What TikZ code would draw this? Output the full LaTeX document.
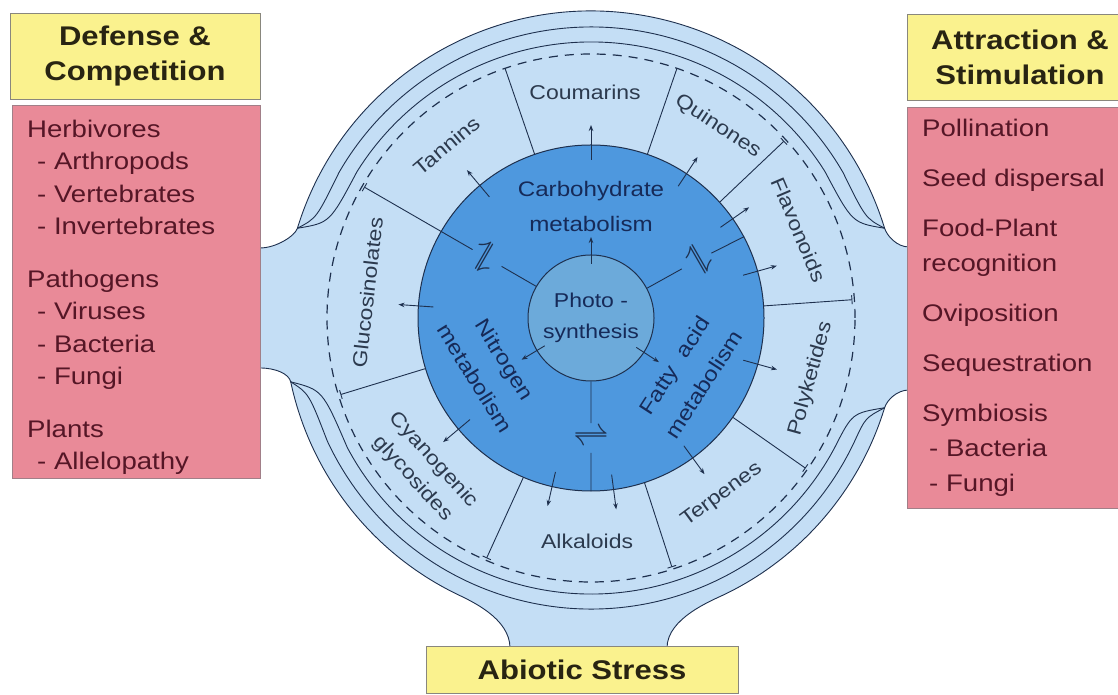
\documentclass[tikz,border=0pt]{standalone}
\usepackage{fontspec}
\setmainfont{Liberation Sans}[FakeStretch=1.15]
\usetikzlibrary{arrows.meta}
\definecolor{mynavy}{RGB}{30,48,78}
\definecolor{ringblue}{RGB}{196,222,245}
\definecolor{metblue}{RGB}{78,152,222}
\definecolor{photoblue}{RGB}{108,170,218}
\definecolor{hdryellow}{RGB}{250,242,142}
\definecolor{boxpink}{RGB}{233,138,152}
\definecolor{pinktext}{RGB}{85,22,38}
\definecolor{hdrtext}{RGB}{40,36,18}
\definecolor{ringtext}{RGB}{44,58,78}
\definecolor{mettext}{RGB}{22,42,88}
\tikzset{
  hdr/.style={rectangle, draw=hdrtext!55, fill=hdryellow, line width=0.8pt,
    align=center, font=\fontsize{27}{35}\selectfont\bfseries, text=hdrtext, inner sep=0pt},
  pinkbox/.style={rectangle, draw=pinktext!55, fill=boxpink, line width=0.8pt, inner sep=0pt},
  pinklist/.style={align=left, font=\fontsize{24}{32.5}\selectfont, text=pinktext,
    inner sep=0pt, anchor=west},
  metcirc/.style={circle, draw=mynavy, fill=metblue, line width=1pt,
    minimum size=346pt, inner sep=0pt},
  photocirc/.style={circle, draw=mynavy, fill=photoblue, line width=1pt,
    minimum size=126pt, inner sep=0pt, align=center,
    font=\fontsize{20}{31}\selectfont, text=mettext},
  ringlbl/.style={font=\fontsize{20}{28}\selectfont, text=ringtext, align=center, inner sep=0pt},
  metlbl/.style={font=\fontsize{21}{35}\selectfont, text=mettext, align=center, inner sep=0pt},
  eqsym/.style={font=\fontsize{24.88}{25}\selectfont, text=mynavy, inner sep=0pt,
    scale=1.45, transform shape},
  arrow/.style={-{Stealth[length=6pt, width=4.5pt]}, line width=0.9pt, color=mynavy},
  line/.style={line width=0.9pt, color=mynavy},
  sepline/.style={line width=0.9pt, color=mynavy, -{Bar[width=9pt]}}
}
\begin{document}
\begin{tikzpicture}[x=1pt, y=1pt]
  \useasboundingbox[fill=white] (0,0) rectangle (1118,695);
  \coordinate (ctr) at (591,377);

  \begin{scope}[shift={(ctr)}]
    % wheel with its three stalks
    \draw[line, fill=ringblue] (163:307) arc[start angle=163, end angle=17, radius=307]
      .. controls (296,82) and (306,71) .. (318,71) -- (318,-72)
      .. controls (306,-72) and (296,-82) .. (-17:307)
      arc[start angle=-17, end angle=-64, radius=307]
      .. controls (121,-282.5) and (76,-300) .. (76,-330) -- (-81,-330)
      .. controls (-81,-300) and (-121,-282.5) .. (-116:307)
      arc[start angle=-116, end angle=-168, radius=307]
      .. controls (-302,-56) and (-315,-50) .. (-331,-50) -- (-331,70)
      .. controls (-315,70) and (-296,82) .. (163:307) -- cycle;

    \draw[line] (163:307) .. controls (160:292) .. (150:291)
      arc[start angle=150, end angle=30, radius=291] .. controls (20:292) .. (17:307);
    \draw[line] (163:307) .. controls (160:278) .. (148:276)
      arc[start angle=148, end angle=32, radius=276] .. controls (20:278) .. (17:307);
    \draw[line] (-168:307) .. controls (-165:292) .. (-155:291)
      arc[start angle=-155, end angle=-25, radius=291] .. controls (-20:292) .. (-17:307);
    \draw[line] (-168:307) .. controls (-165:278) .. (-152:276)
      arc[start angle=-152, end angle=-28, radius=276] .. controls (-20:278) .. (-17:307);
    \draw[line, line width=1.2pt, dash pattern=on 9pt off 7pt] (0,0) circle[radius=264];

    \node[metcirc] (metab) at (0,0) {};
    \node[photocirc] (photo) at (0,0) {Photo -\\synthesis};

    % segment borders
    \foreach \a in {109,71}
      \draw[line] (metab.\a) -- (\a:264);
    \foreach \a in {42.5,4,-35,-72,-113.5,197}
      \draw[sepline] (metab.\a) -- (\a:262);

    % links around photosynthesis
    \node[eqsym, rotate=60] (eqleft) at (150:120) {$\rightleftharpoons$};
    \node[eqsym, rotate=-60] (eqright) at (28.5:120) {$\rightleftharpoons$};
    \node[eqsym] (eqdown) at (270:120) {$\rightleftharpoons$};
    \draw[line, shorten >=8pt] (photo.150) -- (eqleft);
    \draw[sepline, shorten <=8pt] (eqleft) -- (150:262);
    \draw[line, shorten >=8pt] (photo.28.5) -- (eqright);
    \draw[line, shorten <=8pt] (eqright) -- (metab.28.5);
    \draw[line, shorten >=6pt] (photo.270) -- (eqdown);
    \draw[line, shorten <=6pt] (eqdown) -- (metab.270);

    \foreach \a in {90,211,-33}
      \draw[arrow] (\a:54) -- (\a:81);
    \foreach \a in {130,90,56.5,35,15.7,-15.5,-54,-82.5,-103,-140,176}
      \draw[arrow] (\a:158) -- (\a:193);

    % labels
    \node[ringlbl] (coum) at (91.5:226) {Coumarins};
    \node[ringlbl, rotate=-33.5] (quin) at (56.5:230) {Quinones};
    \node[ringlbl, rotate=-67] (flav) at (23:226) {Flavonoids};
    \node[ringlbl, rotate=74.5] (polyk) at (-15.5:228) {Polyketides};
    \node[ringlbl, rotate=36.5] (terp) at (-53.5:220) {Terpenes};
    \node[ringlbl] (alka) at (-91:223) {Alkaloids};
    \node[ringlbl, rotate=-48] (cyano) at (222:226) {Cyanogenic\\glycosides};
    \node[ringlbl, rotate=83.5] (gluco) at (173.5:225) {Glucosinolates};
    \node[ringlbl, rotate=40] (tann) at (130:225) {Tannins};

    \node[metlbl] (carbo) at (0,111) {Carbohydrate\\metabolism};
    \node[metlbl, rotate=-58] (nitro) at (-101,-51) {Nitrogen\\metabolism};
    \node[metlbl, rotate=57] (fatty) at (98,-57) {Fatty\hspace{14pt}acid\\metabolism};
  \end{scope}

  % side and bottom boxes
  \node[hdr, minimum width=250pt, minimum height=86pt] (defhdr) at (135,639) {Defense \&\\Competition};
  \node[pinkbox, minimum width=248pt, minimum height=373pt] (defbox) at (136,403.5) {};
  \node[pinklist] (deflist) at (27,397.5) {Herbivores\\
    \hspace*{10pt}- Arthropods\\
    \hspace*{10pt}- Vertebrates\\
    \hspace*{10pt}- Invertebrates\\[20pt]
    Pathogens\\
    \hspace*{10pt}- Viruses\\
    \hspace*{10pt}- Bacteria\\
    \hspace*{10pt}- Fungi\\[20pt]
    Plants\\
    \hspace*{10pt}- Allelopathy};

  \node[hdr, minimum width=226pt, minimum height=86pt] (atthdr) at (1020,638) {Attraction \&\\Stimulation};
  \node[pinkbox, minimum width=226pt, minimum height=401pt] (attbox) at (1020,387.5) {};
  \node[pinklist, font=\fontsize{24}{35}\selectfont] (attlist) at (922,387) {Pollination\\[15pt]
    Seed dispersal\\[15pt]
    Food-Plant\\
    recognition\\[15pt]
    Oviposition\\[15pt]
    Sequestration\\[15pt]
    Symbiosis\\
    \hspace*{7pt}- Bacteria\\
    \hspace*{7pt}- Fungi};

  \node[hdr, minimum width=312pt, minimum height=47pt] (abio) at (582,25.5) {Abiotic Stress};
\end{tikzpicture}
\end{document}
